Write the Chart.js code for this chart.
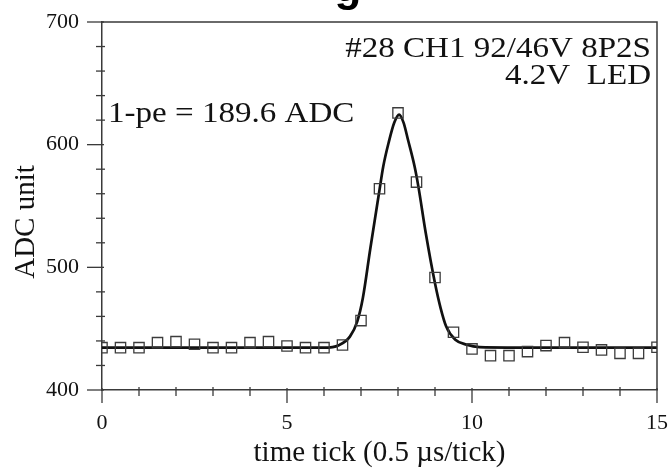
<!DOCTYPE html>
<html>
<head>
<meta charset="utf-8">
<script src="https://cdn.jsdelivr.net/npm/chart.js@4.4.0/dist/chart.umd.min.js"></script>
<style>
  html, body { margin: 0; padding: 0; background: #fff; }
</style>
</head>
<body>
<canvas id="myChart" width="669" height="471"></canvas>
<script>
// measured samples (open squares)
const sampleTicks = [0, 0.5, 1, 1.5, 2, 2.5, 3, 3.5, 4, 4.5, 5, 5.5, 6, 6.5, 7, 7.5,
  8, 8.5, 9, 9.5, 10, 10.5, 11, 11.5, 12, 12.5, 13, 13.5, 14, 14.5, 15]
const sampleADC = [434.5, 434.5, 434.5, 438.6, 439.4, 437.3, 434.5, 434.5, 438.6, 439.4,
  435.9, 434.5, 434.5, 436.7, 456.6, 564.1, 625.9, 569.5, 491.7, 447.1,
  433.5, 428, 428, 431.3, 436.2, 438.6, 434.8, 432.7, 429.9, 429.9, 434.8]

// fitted pulse curve
const fitTicks = [0, 3, 6, 6.4, 6.7, 6.9, 7.05, 7.25, 7.5, 7.6, 7.75, 7.9, 8.03,
  8.15, 8.27, 8.45, 8.55, 8.75, 9, 9.15, 9.3, 9.55, 9.85, 10.2, 12, 15]
const fitADC = [434.5, 434.5, 434.5, 436.5, 443.5, 456, 475, 515, 563, 582, 602, 618, 624.5,
  618, 604, 582, 566, 528, 487, 467, 452, 441, 437, 435, 434.5, 434.5]

const xMajor = [0, 5, 10, 15]
const yMajor = [400, 500, 600, 700]
const yTitle = 'ADC unit'
const infoLines = ['#28 CH1 92/46V 8P2S', '4.2V  LED']
const peText = '1-pe = 189.6 ADC'

const serif = '"Liberation Serif", "Times New Roman", serif'
const ink = '#121212'
const axisColor = '#3a3a3a'

function wideText(ctx, text, x, y, align, sx) {
  ctx.save()
  ctx.translate(x, y)
  ctx.scale(sx, 1)
  ctx.textAlign = align
  ctx.fillText(text, 0, 0)
  ctx.restore()
}

const framePlugin = {
  id: 'frame',
  afterDraw(chart) {
    const ctx = chart.ctx
    const a = chart.chartArea
    const xs = chart.scales.x
    const ys = chart.scales.y
    ctx.save()
    ctx.strokeStyle = axisColor
    ctx.lineWidth = 1.5
    // top and right border
    ctx.beginPath()
    ctx.moveTo(a.left, a.top)
    ctx.lineTo(a.right, a.top)
    ctx.lineTo(a.right, a.bottom)
    ctx.stroke()
    // x ticks
    ctx.lineWidth = 1.3
    for (let v = xs.min; v <= xs.max; v += 1) {
      const px = xs.getPixelForValue(v)
      const major = xMajor.includes(v)
      ctx.beginPath()
      ctx.moveTo(px, a.bottom - (major ? 2 : 3))
      ctx.lineTo(px, a.bottom + (major ? 13 : 6))
      ctx.stroke()
    }
    // y ticks
    for (let v = ys.min; v <= ys.max; v += 20) {
      const py = ys.getPixelForValue(v)
      const major = yMajor.includes(v)
      ctx.beginPath()
      ctx.moveTo(a.left - (major ? 15 : 6), py)
      ctx.lineTo(a.left + (major ? 2 : 3), py)
      ctx.stroke()
    }
    ctx.fillStyle = ink
    // y axis title
    ctx.save()
    ctx.translate(26, 222)
    ctx.rotate(-Math.PI / 2)
    ctx.font = '29px ' + serif
    ctx.textAlign = 'center'
    ctx.textBaseline = 'middle'
    ctx.fillText(yTitle, 0, 0)
    ctx.restore()
    // annotations
    ctx.textBaseline = 'alphabetic'
    ctx.font = '29px ' + serif
    wideText(ctx, infoLines[0], 651, 57, 'right', 1.14)
    wideText(ctx, infoLines[1], 651, 84, 'right', 1.14)
    wideText(ctx, peText, 108, 122, 'left', 1.14)
    // clipped title fragment above the frame
    ctx.font = 'bold 44px "Liberation Sans", Arial, sans-serif'
    ctx.textAlign = 'center'
    ctx.fillStyle = '#000'
    ctx.fillText('g', 348, 1)
    ctx.restore()
  }
}

new Chart(document.getElementById('myChart'), {
  type: 'scatter',
  data: {
    datasets: [
      {
        label: 'fit',
        data: fitTicks.map((t, i) => ({ x: t, y: fitADC[i] })),
        showLine: true,
        borderColor: '#111',
        borderWidth: 2.7,
        pointRadius: 0,
        tension: 0.4,
        cubicInterpolationMode: 'monotone',
        order: 2
      },
      {
        label: 'samples',
        data: sampleTicks.map((t, i) => ({ x: t, y: sampleADC[i] })),
        showLine: false,
        pointStyle: 'rect',
        pointRadius: 7.3,
        pointBorderWidth: 1.3,
        borderColor: '#3c3c3c',
        backgroundColor: 'rgba(0,0,0,0)',
        order: 1
      }
    ]
  },
  options: {
    responsive: false,
    animation: false,
    layout: { padding: { top: 22, right: 12, left: 0, bottom: 0 } },
    plugins: {
      legend: { display: false },
      tooltip: { enabled: false }
    },
    scales: {
      x: {
        type: 'linear',
        min: 0,
        max: 15,
        // tick marks are drawn by the frame plugin, tickLength only offsets the labels
        ticks: { stepSize: 5, color: ink, padding: 0, maxRotation: 0, font: { family: serif, size: 22 } },
        grid: { display: false, drawTicks: true, tickLength: 20 },
        border: { color: axisColor, width: 1.5 },
        title: { display: true, text: 'time tick (0.5 µs/tick)', color: ink, padding: { top: 0, bottom: 0 }, font: { family: serif, size: 29 } },
        afterFit: s => { s.height = 81 }
      },
      y: {
        min: 400,
        max: 700,
        ticks: { stepSize: 100, color: ink, padding: 0, font: { family: serif, size: 22 } },
        grid: { display: false, drawTicks: true, tickLength: 23 },
        border: { color: axisColor, width: 1.5 },
        afterFit: s => { s.width = 102 }
      }
    }
  },
  plugins: [framePlugin]
})
</script>
</body>
</html>
